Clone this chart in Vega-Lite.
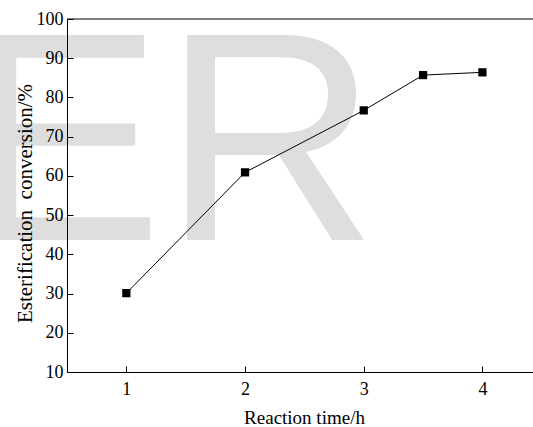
{
  "$schema": "https://vega.github.io/schema/vega-lite/v6.json",
  "width": 466,
  "height": 353,
  "autosize": "none",
  "padding": {"left": 67, "top": 19, "right": 0, "bottom": 55},
  "background": "white",
  "config": {
    "view": {"stroke": null},
    "font": "Liberation Serif",
    "axis": {"grid": false, "domainColor": "black", "domainWidth": 1, "tickColor": "black", "tickWidth": 1, "labelColor": "black", "titleColor": "black", "labelFont": "Liberation Serif", "titleFont": "Liberation Serif", "titleFontWeight": "normal"}
  },
  "datasets": {
    "pts": [
      {"time": 1, "conv": 30.1},
      {"time": 2, "conv": 60.9},
      {"time": 3, "conv": 76.7},
      {"time": 3.5, "conv": 85.7},
      {"time": 4, "conv": 86.4}
    ],
    "wm": [{"label": "ER", "time": -0.368, "conv": 43.65}]
  },
  "encoding": {
    "x": {
      "field": "time", "type": "quantitative",
      "scale": {"domain": [0.5, 4.426], "nice": false, "zero": false},
      "axis": {"zindex": 2, "values": [1, 2, 3, 4], "tickSize": -6, "labelPadding": 14, "labelFontSize": 18, "labelBaseline": "top", "title": "Reaction time/h", "titleFontSize": 19, "titleBaseline": "alphabetic", "titleX": 237, "titleY": 51}
    },
    "y": {
      "field": "conv", "type": "quantitative",
      "scale": {"domain": [10, 100], "nice": false, "zero": false},
      "axis": {"zindex": 2, "values": [10, 20, 30, 40, 50, 60, 70, 80, 90, 100], "tickSize": -6, "labelPadding": 10, "labelFontSize": 18, "title": "Esterification\u00a0\u00a0conversion/%", "titleFontSize": 21, "titleAngle": 270, "titleBaseline": "alphabetic", "titleAlign": "center", "titleX": -35.5, "titleY": 184}
    }
  },
  "layer": [
    {
      "data": {"name": "wm"},
      "mark": {"type": "text", "font": "Liberation Sans", "fontSize": 298, "color": "#dedede", "align": "left", "baseline": "alphabetic", "zindex": 0},
      "encoding": {"text": {"field": "label"}}
    },
    {
      "data": {"name": "pts"},
      "mark": {"type": "line", "color": "black", "strokeWidth": 1}
    },
    {
      "data": {"name": "pts"},
      "mark": {"type": "point", "shape": "square", "filled": true, "color": "black", "opacity": 1, "size": 68}
    },
    {
      "data": {"name": "wm"},
      "mark": {"type": "rule", "color": "black", "strokeWidth": 1},
      "encoding": {"x": {"value": 0}, "x2": {"value": 466}, "y": {"datum": 100}}
    }
  ]
}
